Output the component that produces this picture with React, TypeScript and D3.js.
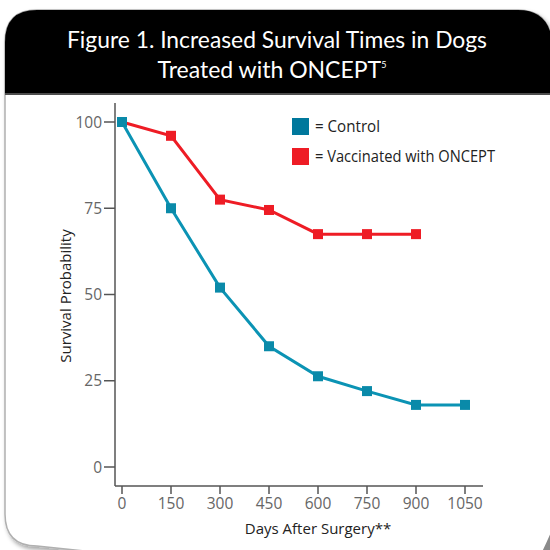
import React from "react";
import * as d3 from "d3";

const days = [0, 150, 300, 450, 600, 750, 900, 1050];
const controlValues = [100, 75, 52, 35, 26.3, 22, 18, 18];
const vaccinatedDays = [0, 150, 300, 450, 600, 750, 900];
const vaccinatedValues = [100, 96, 77.5, 74.5, 67.5, 67.5, 67.5];
const yTicks = [0, 25, 50, 75, 100];
const xTicks = [0, 150, 300, 450, 600, 750, 900, 1050];
const titleLines = ["Figure 1. Increased Survival Times in Dogs", "Treated with ONCEPT"];
const legendLabels = ["= Control", "= Vaccinated with ONCEPT"];

const CONTROL_LINE = "#0b93b4";
const CONTROL_MARK = "#0a8aa9";
const CONTROL_LEGEND = "#00789c";
const RED = "#ee1c25";
const AXIS = "#555";
const FONT = "'Open Sans', 'Noto Sans', sans-serif";
const TITLE_FONT = "Lato, 'Open Sans', sans-serif";

export default function App() {
  const x = d3.scaleLinear().domain([0, 1050]).range([122, 465]);
  const y = d3.scaleLinear().domain([0, 100]).range([467, 122]);
  const line = d3
    .line<[number, number]>()
    .x((d) => x(d[0]))
    .y((d) => y(d[1]));
  const control: [number, number][] = days.map((d, i) => [d, controlValues[i]]);
  const vacc: [number, number][] = vaccinatedDays.map((d, i) => [d, vaccinatedValues[i]]);
  const ms = 10;

  const headerPath = "M5,95 L5,42 Q5,10 37,10 L518,10 Q548,10 552,40 L552,95 Z";

  return (
    <div style={{ position: "absolute", left: 0, top: 0 }}>
      <svg width={550} height={550} style={{ display: "block" }}>
        <defs>
          <filter id="sh" x="-10%" y="-10%" width="120%" height="120%">
            <feDropShadow dx="2" dy="3" stdDeviation="2" floodColor="#000" floodOpacity="0.35" />
          </filter>
        </defs>
        <rect width={550} height={550} fill="#fff" />
        {/* card */}
        <path
          d="M5,42 Q5,10 37,10 L518,10 Q548,10 552,40 L552,600 L37,546 Q5,546 5,514 Z"
          fill="#fff"
          stroke="#b0b0b0"
          strokeWidth={1.5}
          filter="url(#sh)"
        />
        <path d="M540,556 Q548,540 556,520 L556,556 Z" fill="#8a8a8a" />
        <path d={headerPath} fill="#000" />
        <line x1={5} x2={552} y1={94} y2={94} stroke="#999" strokeWidth={1} />
        <text x={277} y={48} fill="#fff" fontFamily={TITLE_FONT} fontSize={23} textAnchor="middle" textLength={420} lengthAdjust="spacingAndGlyphs">
          {titleLines[0]}
        </text>
        <text x={272} y={78} fill="#fff" fontFamily={TITLE_FONT} fontSize={23} textAnchor="middle">
          {titleLines[1]}
          <tspan fontSize={9} dy={-10}>5</tspan>
        </text>

        {/* axes */}
        <line x1={115} x2={115} y1={103} y2={486} stroke={AXIS} strokeWidth={1.5} />
        <line x1={115} x2={483} y1={486} y2={486} stroke={AXIS} strokeWidth={1.5} />
        {yTicks.map((t) => (
          <g key={t}>
            <line x1={104} x2={115} y1={y(t)} y2={y(t)} stroke={AXIS} strokeWidth={1.5} />
            <text x={102} y={y(t) + 5.5} fill="#666" fontFamily={FONT} fontSize={15.5} textAnchor="end">
              {t}
            </text>
          </g>
        ))}
        {xTicks.map((t) => (
          <g key={t}>
            <line x1={x(t)} x2={x(t)} y1={486} y2={494} stroke={AXIS} strokeWidth={1.5} />
            <text x={x(t)} y={509} fill="#666" fontFamily={FONT} fontSize={15.5} textAnchor="middle">
              {t}
            </text>
          </g>
        ))}
        <text
          transform="translate(71,296) rotate(-90)"
          fill="#222"
          fontFamily={FONT}
          fontSize={15}
          textAnchor="middle"
        >
          Survival Probability
        </text>
        <text x={318} y={534} fill="#222" fontFamily={FONT} fontSize={15} textAnchor="middle">
          Days After Surgery**
        </text>

        {/* series */}
        <path d={line(vacc) || ""} fill="none" stroke={RED} strokeWidth={3} />
        {vacc.map((d, i) => (
          <rect key={i} x={x(d[0]) - ms / 2} y={y(d[1]) - ms / 2} width={ms} height={ms} fill={RED} />
        ))}
        <path d={line(control) || ""} fill="none" stroke={CONTROL_LINE} strokeWidth={3} />
        {control.map((d, i) => (
          <rect key={i} x={x(d[0]) - ms / 2} y={y(d[1]) - ms / 2} width={ms} height={ms} fill={CONTROL_MARK} />
        ))}

        {/* legend */}
        <rect x={292} y={118} width={17} height={17} fill={CONTROL_LEGEND} />
        <rect x={292} y={148} width={17} height={17} fill={RED} />
        <text x={315} y={132} fill="#222" fontFamily={FONT} fontSize={16} textLength={65} lengthAdjust="spacingAndGlyphs">
          {legendLabels[0]}
        </text>
        <text x={315} y={162} fill="#222" fontFamily={FONT} fontSize={16} textLength={180} lengthAdjust="spacingAndGlyphs">
          {legendLabels[1]}
        </text>
      </svg>
    </div>
  );
}
